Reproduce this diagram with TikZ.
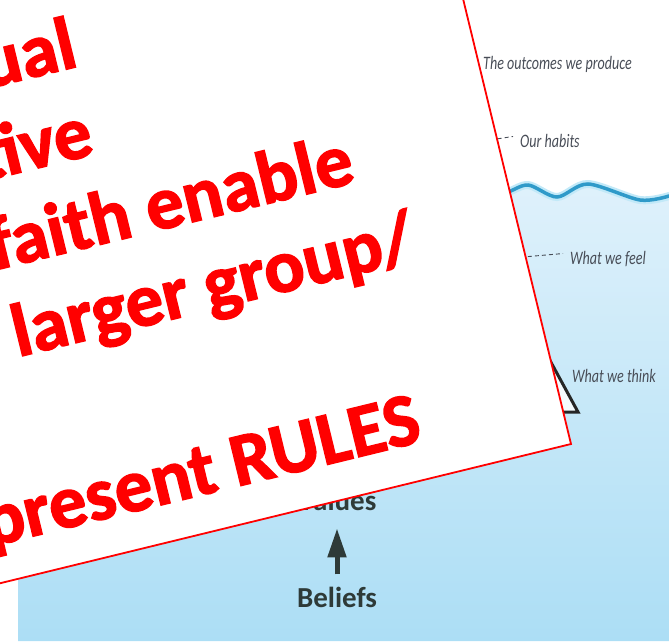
\documentclass[tikz,border=0pt]{standalone}
\usepackage{fontspec}
\setmainfont{Carlito}
\newfontfamily\condit{Carlito}[FakeStretch=0.74]
\newfontfamily\cardfont{Carlito}[UprightFont=*-Bold, FakeBold=2]
\usetikzlibrary{arrows.meta}
\definecolor{cardred}{HTML}{FF0000}
\definecolor{labelgray}{HTML}{484D57}
\definecolor{lbldark}{HTML}{2E3A38}
\definecolor{watertop}{RGB}{223,241,251}
\definecolor{waterbot}{RGB}{172,222,245}
\definecolor{wavecol}{HTML}{2F9AC9}
\definecolor{waveglow}{HTML}{C2E9F8}
\begin{document}
\begin{tikzpicture}[x=1pt,y=-1pt,
  redtxt/.style={text=cardred, font=\cardfont\fontsize{75}{89}\selectfont, inner sep=0pt, rotate=13.7},
  graytxt/.style={text=labelgray, font=\condit\itshape\fontsize{19}{22}\selectfont, inner sep=0pt, anchor=base west},
  boldlbl/.style={text=lbldark, font=\bfseries\fontsize{29}{34}\selectfont, inner sep=0pt, anchor=base},
  leader/.style={labelgray, line width=0.9pt, dash pattern=on 4pt off 3pt},
]
\useasboundingbox (0,0) rectangle (669,641);
\clip (0,0) rectangle (669,641);
% water
\shade[top color=watertop, bottom color=waterbot]
  (18,641) -- (18,194) -- plot[smooth] coordinates {(480,194) (505,193) (528,185) (557,197) (588,184) (640,200) (669,196)} -- (669,641) -- cycle;
\draw[waveglow, line width=8pt, line cap=round] plot[smooth] coordinates {(480,194) (505,193) (528,185) (557,197) (588,184) (640,200) (669,196)};
\draw[wavecol, line width=3.5pt, line cap=round] plot[smooth] coordinates {(480,194) (505,193) (528,185) (557,197) (588,184) (640,200) (669,196)};
% labels
\node[graytxt] (outc) at (483,69) {The outcomes we produce};
\node[graytxt] (habits) at (520,147) {Our habits};
\node[graytxt] (feel) at (570,264) {What we feel};
\node[graytxt] (think) at (572,382) {What we think};
\coordinate (hstart) at (470,143);
\coordinate (fstart) at (500,259);
\draw[leader] (hstart) -- ([xshift=-7pt,yshift=4pt]habits.west);
\draw[leader] (fstart) -- ([xshift=-7pt,yshift=5pt]feel.west);
% triangle
\draw[black!85, line width=3pt, fill=white!70!watertop, line join=miter] (528,320) -- (578,412) -- (470,412) -- cycle;
% values / beliefs
\node[boldlbl] (values) at (337,510) {Values};
\node[boldlbl] (beliefs) at (337,607) {Beliefs};
\draw[lbldark, line width=5pt, -{Triangle[width=18pt,length=29pt]}, shorten <=12pt, shorten >=18pt] (beliefs.north) -- (values.south);
% card
\filldraw[fill=white, draw=cardred, line width=1.8pt] (450,-55) -- (571,444) -- (-40,593) -- (-40,-55) -- cycle;
\node[redtxt, anchor=base east] (l1) at (80,66) {ual};
\node[redtxt, anchor=base east] (l2) at (96,154) {tive};
\node[redtxt, anchor=base east] (l3) at (357,182) {faith enable};
\node[redtxt, anchor=base west] (l4) at (18,357) {larger group/};
\node[redtxt, anchor=base east] (l6) at (424,441) {present RULES};
\end{tikzpicture}
\end{document}
